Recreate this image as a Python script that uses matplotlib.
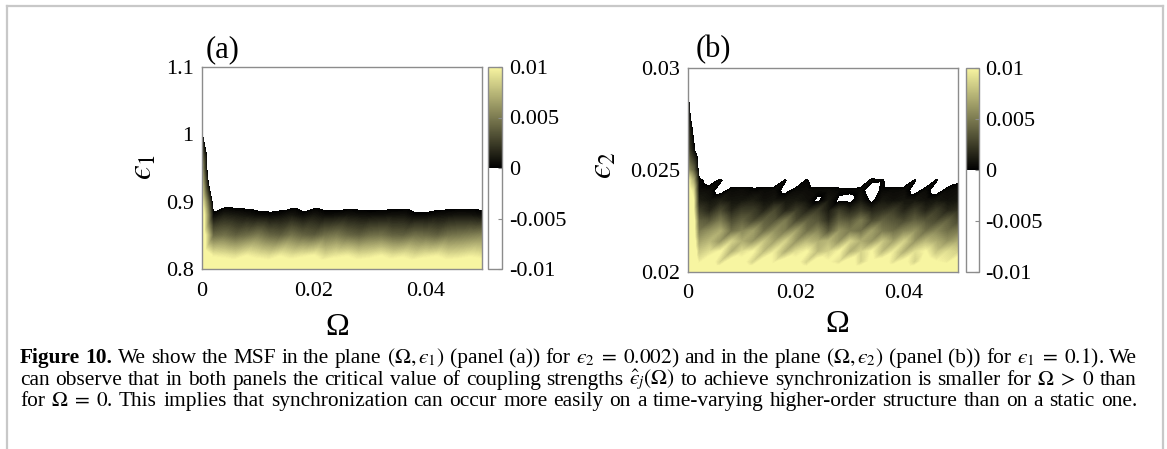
import re
import numpy as np
import matplotlib
matplotlib.use("Agg")
import matplotlib.pyplot as plt
import matplotlib.cm as cm
import matplotlib.tri as mtri
from matplotlib.colors import ListedColormap, Normalize
from matplotlib.lines import Line2D

plt.rcParams["font.family"] = ["Liberation Serif", "DejaVu Serif"]
plt.rcParams["mathtext.fontset"] = "stix"

# ---------------- panel (a): MSF in the (Omega, eps1) plane, eps2 = 0.002 ----------------
omega_a = [0.000, 0.002, 0.004, 0.006, 0.008, 0.010, 0.012, 0.014, 0.016, 0.018,
           0.020, 0.022, 0.024, 0.026, 0.028, 0.030, 0.032, 0.034, 0.036, 0.038,
           0.040, 0.042, 0.044, 0.046, 0.048, 0.050]
eps1_a = [0.80, 0.82, 0.85, 0.88, 0.90, 0.95, 1.00, 1.10]
# MSF values in units of 1e-3, one row per eps1 value
msf_a_milli = [
    [12.0, 12.0, 11.8, 12.0, 11.9, 12.0, 11.8, 12.0, 11.9, 12.0, 11.8, 12.0, 11.9,
     12.0, 11.8, 12.0, 11.9, 12.0, 11.8, 12.0, 11.9, 12.0, 11.8, 12.0, 11.9, 12.0],
    [12.0, 9.6, 9.4, 9.0, 9.8, 9.3, 8.9, 9.7, 9.1, 9.5, 9.9, 8.8, 9.4,
     9.7, 9.0, 9.3, 9.8, 9.1, 9.5, 8.9, 9.4, 9.7, 9.0, 9.2, 9.6, 9.3],
    [12.0, 4.2, 4.6, 3.9, 4.4, 5.0, 4.1, 3.8, 4.7, 4.0, 3.7, 4.5, 4.9,
     4.2, 3.8, 4.4, 4.6, 4.0, 3.9, 4.5, 4.3, 3.9, 4.6, 4.8, 5.1, 5.4],
    [12.0, 0.33, 1.2, 1.0, 0.74, 0.43, 0.29, 0.48, 0.9, 0.38, 0.9, 0.48, 0.54,
     0.74, 0.6, 0.54, 0.6, 0.67, 0.74, 0.25, 0.29, 0.54, 0.67, 0.82, 0.74, 0.48],
    [10.0, -1, -1, -1, -1, -1, -1, -1, -1, -1, -1, -1, -1,
     -1, -1, -1, -1, -1, -1, -1, -1, -1, -1, -1, -1, -1],
    [6.0, -8, -2, -2, -2, -2, -2, -2, -2, -2, -2, -2, -2,
     -2, -2, -2, -2, -2, -2, -2, -2, -2, -2, -2, -2, -2],
    [0.3, -9, -3, -3, -3, -3, -3, -3, -3, -3, -3, -3, -3,
     -3, -3, -3, -3, -3, -3, -3, -3, -3, -3, -3, -3, -3],
    [-5, -10, -5, -5, -5, -5, -5, -5, -5, -5, -5, -5, -5,
     -5, -5, -5, -5, -5, -5, -5, -5, -5, -5, -5, -5, -5],
]

# ---------------- panel (b): MSF in the (Omega, eps2) plane, eps1 = 0.1 ----------------
omega_b = [0.000, 0.001, 0.002, 0.004, 0.006, 0.008, 0.010, 0.012, 0.014, 0.016,
           0.018, 0.020, 0.022, 0.024, 0.026, 0.028, 0.030, 0.032, 0.034, 0.036,
           0.038, 0.040, 0.042, 0.044, 0.046, 0.048, 0.050]
eps2_b = [0.0200, 0.0205, 0.0210, 0.0215, 0.0220, 0.0225, 0.0230, 0.0235,
          0.0240, 0.0245, 0.0250, 0.0260, 0.0270, 0.0280, 0.0290, 0.0300]
msf_b_milli = [
    [12, 12, 12, 12, 12, 11.5, 12, 12, 11.5, 12, 12, 12, 11.5, 12, 12, 12, 11.5, 12,
     12, 12, 12, 11.5, 12, 12, 12, 12, 12],
    [12, 12, 9.5, 11, 8.5, 11, 10.5, 8.5, 11, 9.5, 11, 10.5, 8.5, 11, 10, 9, 11, 8.5,
     10.5, 11, 9, 10.5, 8.5, 11, 10, 9.5, 11],
    [12, 12, 8, 9, 10, 7, 9, 10, 7.5, 9.5, 7, 9, 10, 7.5, 8.5, 10, 7, 8.5,
     10, 7.5, 9.5, 7, 9, 10, 8, 9, 8.5],
    [12, 11.5, 6.5, 7.5, 6, 8.5, 7, 6, 8, 6.5, 8.5, 6, 7.5, 7, 7.5, 6, 8.5, 7,
     6, 8, 6.5, 8.5, 6, 7.5, 7, 6, 7],
    [12, 11, 5, 6, 7, 4.5, 5.5, 6.5, 4.5, 6, 5, 6.5, 4.5, 5.5, 3.5, 6, 5, 4.5,
     6.5, 5, 4.5, 5.5, 6, 4.5, 5.5, 4.5, 5],
    [12, 11, 4, 3.5, 5, 3, 4, 3, 4, 3.5, 5, 3, 4, 3.5, 1.8, 4, 3.5, 5,
     3, 4, 3.5, 3, 4, 3.5, 3, 4, 3],
    [12, 10, 2.5, 1.5, 3, 1.5, 2.5, 2.5, 1.5, 3, 1.5, 2.5, 1.5, 2.5, 1.0, 2.5, 1.5, 2.5,
     1.5, 2, 2.5, 1.5, 2.5, 1.5, 2.5, 1.5, 2],
    [12, 10, 1.2, 0.8, 1.2, 0.8, 0.9, 1.2, 0.7, 0.9, 0.9, 1.0, 0.7, -0.3, 0.9, -0.3, -0.4, 0.9,
     -0.3, 0.9, 0.7, 0.9, 0.9, 0.7, 0.9, 0.7, 0.9],
    [11, 9, 0.6, 0.5, -0.6, 0.4, 0.5, 0.3, 0.4, 0.5, -0.4, 0.4, 0.5, 0.4, 0.5, 0.3, 0.2, 0.4,
     -0.8, 0.3, 0.4, 0.5, -0.5, 0.4, -0.6, 0.4, 0.6],
    [10, 7, 0.3, -0.5, 0.2, -1, -1, -1, -1, -1, 0.1, -1, 0.15, -1, -1, -1, -1, -1,
     0.3, 0.15, -1, -1, 0.1, -1, 0.1, -1, -0.3],
    [6, 4, -0.5, -2, -2, -2, -2, -2, -2, -2, -2, -2, -2, -2, -2, -2, -2, -2,
     -2, -2, -2, -2, -2, -2, -2, -2, -2],
    [3, 0.5, -2, -2, -2, -2, -2, -2, -2, -2, -2, -2, -2, -2, -2, -2, -2, -2,
     -2, -2, -2, -2, -2, -2, -2, -2, -2],
    [2, -0.5, -2, -2, -2, -2, -2, -2, -2, -2, -2, -2, -2, -2, -2, -2, -2, -2,
     -2, -2, -2, -2, -2, -2, -2, -2, -2],
    [0.8, -2, -2, -2, -2, -2, -2, -2, -2, -2, -2, -2, -2, -2, -2, -2, -2, -2,
     -2, -2, -2, -2, -2, -2, -2, -2, -2],
    [-1.5, -2, -2, -2, -2, -2, -2, -2, -2, -2, -2, -2, -2, -2, -2, -2, -2, -2,
     -2, -2, -2, -2, -2, -2, -2, -2, -2],
    [-2, -2, -2, -2, -2, -2, -2, -2, -2, -2, -2, -2, -2, -2, -2, -2, -2, -2,
     -2, -2, -2, -2, -2, -2, -2, -2, -2],
]

# tick positions and labels
xticks = [0, 0.02, 0.04]
xticklabels = ["0", "0.02", "0.04"]
yticks_a = [0.8, 0.9, 1.0, 1.1]
yticklabels_a = ["0.8", "0.9", "1", "1.1"]
yticks_b = [0.02, 0.025, 0.03]
yticklabels_b = ["0.02", "0.025", "0.03"]
cticks = [-0.01, -0.005, 0, 0.005, 0.01]
cticklabels = ["-0.01", "-0.005", "0", "0.005", "0.01"]

caption_lines = [
    r"Figure 10. We show the MSF in the plane $(\Omega,ϵ_1)$ (panel (a)) for "
    r"$ϵ_2\;=\;0.002$) and in the plane $(\Omega,ϵ_2)$ (panel (b)) for "
    r"$ϵ_1\;=\;0.1$). We",
    r"can observe that in both panels the critical value of coupling strengths "
    r"$\hat{ϵ}_j(\Omega)$ to achieve synchronization is smaller for "
    r"$\Omega\;>\;0$ than",
    r"for $\Omega\;=\;0$. This implies that synchronization can occur more easily on a "
    r"time-varying higher-order structure than on a static one.",
]

# ---------------- figure ----------------
W, H = 1167, 449
fig = plt.figure(figsize=(W / 100, H / 100), dpi=100)
fig.patch.set_facecolor("white")


def fx(px):
    return px / W


def fy(py):
    return 1 - py / H


# colour map: white for negative MSF, black -> pale yellow for positive MSF
yellow = np.array([0.97, 0.96, 0.63])
ramp = np.linspace(0, 1, 256)[:, None] * yellow[None, :]
cmap = ListedColormap(np.vstack([np.ones((256, 3)), ramp]))
cmap.set_over(yellow)
cmap.set_under("white")
levels = np.linspace(-0.01, 0.01, 201)

spine_col = "#8c8c8c"
tick_fs = 16


def grid_triangulation(xs, ys):
    """Split every grid cell along its rising diagonal."""
    nx, ny = len(xs), len(ys)
    X, Y = np.meshgrid(xs, ys)
    tris = []
    for j in range(ny - 1):
        for i in range(nx - 1):
            a = j * nx + i
            b = a + 1
            c = a + nx + 1
            d = a + nx
            tris.append([a, b, c])
            tris.append([a, c, d])
    return mtri.Triangulation(X.ravel(), Y.ravel(), np.array(tris))


def draw_panel(rect, crect, omega, eps, msf_milli, ylim, yticks, yticklabels, ypad):
    norm = Normalize(-0.01, 0.01)
    ax = fig.add_axes(rect)
    Z = np.asarray(msf_milli, dtype=float) * 1e-3
    tri = grid_triangulation(omega, eps)
    ax.tricontourf(tri, Z.ravel(), levels=levels, cmap=cmap, norm=norm,
                   extend="both", antialiased=False)
    ax.set_xlim(0, 0.05)
    ax.set_ylim(*ylim)
    ax.set_xticks(xticks)
    ax.set_xticklabels(xticklabels)
    ax.set_yticks(yticks)
    ax.set_yticklabels(yticklabels)
    ax.tick_params(axis="both", length=0, labelsize=tick_fs)
    ax.tick_params(axis="x", pad=9)
    ax.tick_params(axis="y", pad=ypad)
    for s in ax.spines.values():
        s.set_edgecolor(spine_col)
        s.set_linewidth(1.0)

    cax = fig.add_axes(crect)
    sm = cm.ScalarMappable(norm=norm, cmap=cmap)
    cb = fig.colorbar(sm, cax=cax)
    cb.set_ticks(cticks, labels=cticklabels)
    cb.minorticks_off()
    cb.outline.set_edgecolor(spine_col)
    cb.outline.set_linewidth(1.0)
    cb.ax.tick_params(direction="in", length=3, width=0.8, color=spine_col,
                      labelsize=tick_fs, pad=5)
    return ax


draw_panel([fx(202), fy(269), fx(280), 202 / H], [fx(488), fy(269), fx(14), 202 / H],
           omega_a, eps1_a, msf_a_milli, (0.8, 1.1), yticks_a, yticklabels_a, 6)
draw_panel([fx(688), fy(272), fx(270), 204 / H], [fx(966), fy(272), fx(12.5), 204 / H],
           omega_b, eps2_b, msf_b_milli, (0.02, 0.03), yticks_b, yticklabels_b, 5.5)

# panel letters and axis labels
fig.text(fx(223), fy(57), "(a)", fontsize=22, ha="center", va="baseline")
fig.text(fx(713), fy(57), "(b)", fontsize=22, ha="center", va="baseline")
fig.text(fx(337), fy(335), "Ω", fontsize=23, ha="center", va="baseline")
fig.text(fx(837), fy(332), "Ω", fontsize=23, ha="center", va="baseline")
fig.text(fx(143), fy(167), r"$ϵ_1$", fontsize=24, rotation=90,
         ha="center", va="center")
fig.text(fx(603), fy(165), r"$ϵ_2$", fontsize=24, rotation=90,
         ha="center", va="center")

# light grey frame around the figure block
frame_kw = dict(color="#c8c8c8", linewidth=1.6, transform=fig.transFigure)
fig.add_artist(Line2D([fx(7), fx(1163)], [fy(6), fy(6)], **frame_kw))
fig.add_artist(Line2D([fx(7), fx(7)], [fy(6), 0], **frame_kw))
fig.add_artist(Line2D([fx(1163), fx(1163)], [fy(6), 0], **frame_kw))

# justified caption: pick a font size so the widest line fits with normal
# word spacing, then spread the words of each line across the full width
cap_left, cap_right = 20, 1137
baselines = [363, 385, 406]
token_re = re.compile(r"(?:\$[^$]*\$|[^\s$])+")
token_lists = [token_re.findall(line) for line in caption_lines]


def make_line_texts(size):
    out = []
    for li, (toks, base) in enumerate(zip(token_lists, baselines)):
        objs = []
        for i, tok in enumerate(toks):
            bold = (li == 0 and i < 2)
            objs.append(fig.text(fx(cap_left), fy(base), tok, fontsize=size,
                                 fontweight="bold" if bold else "normal",
                                 ha="left", va="baseline"))
        out.append(objs)
    return out


probe_size = 12.0
probe = make_line_texts(probe_size)
fig.canvas.draw()
renderer = fig.canvas.get_renderer()
space_px = 0.25 * probe_size * 100 / 72
fits = []
for objs in probe:
    natural = sum(o.get_window_extent(renderer).width for o in objs) \
        + space_px * (len(objs) - 1)
    fits.append(probe_size * (cap_right - cap_left) / natural)
for objs in probe:
    for o in objs:
        o.remove()

cap_size = min(fits)
line_objs = make_line_texts(cap_size)
fig.canvas.draw()
renderer = fig.canvas.get_renderer()
for objs in line_objs:
    widths = [o.get_window_extent(renderer).width for o in objs]
    gap = (cap_right - cap_left - sum(widths)) / (len(objs) - 1)
    x = cap_left
    for o, w in zip(objs, widths):
        o.set_x(fx(x))
        x += w + gap

fig.savefig("out.png", dpi=100)
